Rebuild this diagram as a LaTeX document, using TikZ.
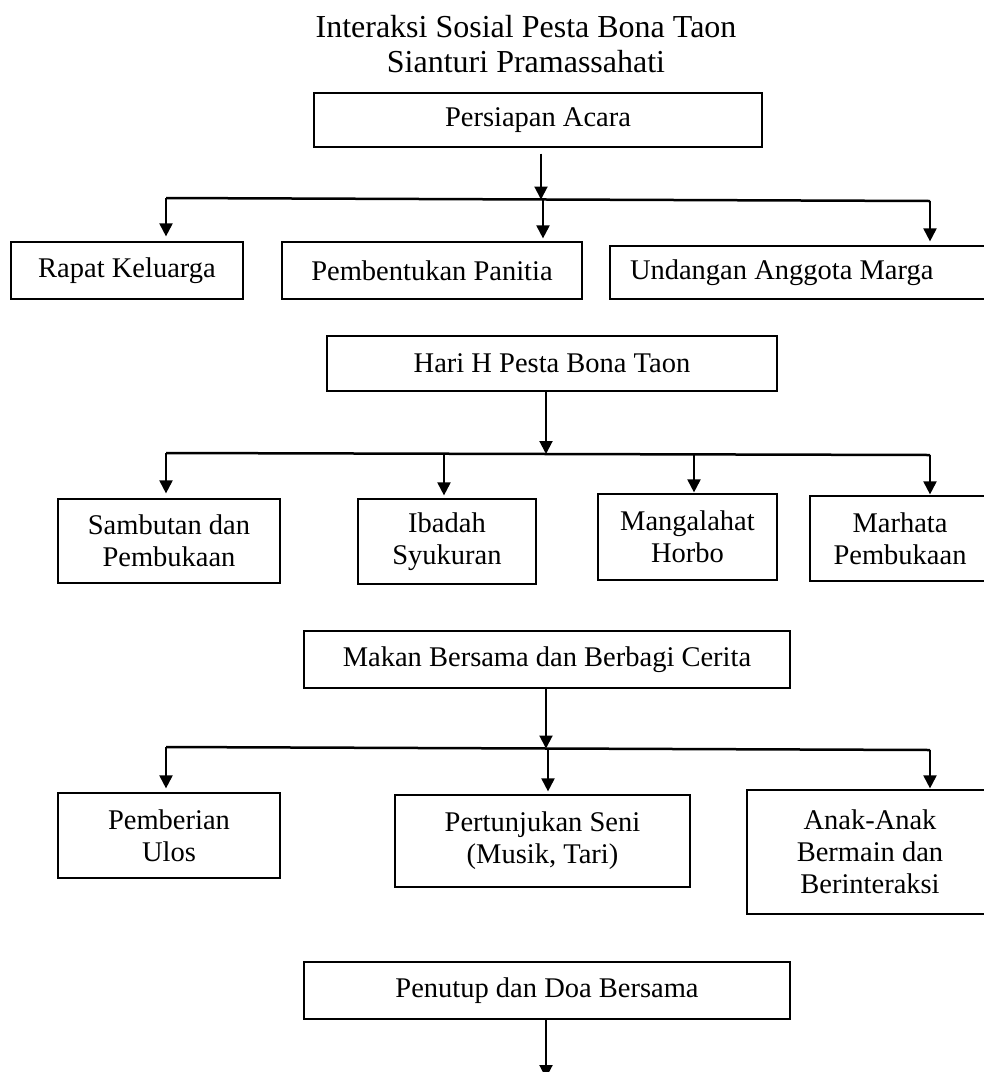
\documentclass[tikz,border=0pt]{standalone}
\usepackage{fontspec}
\setmainfont{Liberation Serif}
\usetikzlibrary{arrows.meta}

\begin{document}
\begin{tikzpicture}[x=1pt,y=-1pt,line width=2pt,>={Triangle[width=13pt,length=13pt]}]

	\useasboundingbox (0,0) rectangle (984,1072);
	\def \barA{198}
	\def \barB{453}
	\def \barC{747}
	\tikzstyle{p-node}=[draw,line width=1.2pt,align=center,inner sep=0pt,font=\fontsize{28.5}{32}\selectfont]
	\tikzstyle{title}=[anchor=base,font=\fontsize{32}{35}\selectfont]
	\tikzstyle{bar}=[line width=2.5pt]
	\tikzstyle{arr}=[->,shorten >=3pt]
	% title
	\node[title] (title1) at (526,37) {Interaksi Sosial Pesta Bona Taon};
	\node[title] (title2) at (526,72) {Sianturi Pramassahati};

	% persiapan
	\node[p-node,minimum width=448pt,minimum height=54pt] (persiapan) at (538,120) {Persiapan Acara};
	\node[p-node,minimum width=232pt,minimum height=57pt] (rapat) at (127,270.5) {Rapat Keluarga};
	\node[p-node,minimum width=300pt,minimum height=57pt] (panitia) at (432,270.5) {Pembentukan Panitia};
	\node[p-node,text width=350pt,inner xsep=20pt,align=flush left,minimum height=53pt] (undangan) at (805,272.5) {Undangan Anggota Marga};

	% hari H
	\node[p-node,minimum width=450pt,minimum height=55pt] (hari) at (552,363.5) {Hari H Pesta Bona Taon};
	\node[p-node,minimum width=222pt,minimum height=84pt] (sambutan) at (169,541) {Sambutan dan\\Pembukaan};
	\node[p-node,minimum width=178pt,minimum height=85pt] (ibadah) at (447,541.5) {Ibadah\\Syukuran};
	\node[p-node,minimum width=179pt,minimum height=86pt] (mangalahat) at (687.5,537) {Mangalahat\\Horbo};
	\node[p-node,minimum width=180pt,minimum height=85pt] (marhata) at (900,538.5) {Marhata\\Pembukaan};

	% makan bersama
	\node[p-node,minimum width=486pt,minimum height=57pt] (makan) at (547,659.5) {Makan Bersama dan Berbagi Cerita};
	\node[p-node,minimum width=222pt,minimum height=85pt] (pemberian) at (169,835.5) {Pemberian\\Ulos};
	\node[p-node,minimum width=295pt,minimum height=92pt] (pertunjukan) at (542.5,841) {Pertunjukan Seni\\(Musik, Tari)};
	\node[p-node,minimum width=246pt,minimum height=124pt] (anak) at (870,852) {Anak-Anak\\Bermain dan\\Berinteraksi};

	% penutup
	\node[p-node,minimum width=486pt,minimum height=57pt] (penutup) at (547,990.5) {Penutup dan Doa Bersama};
	\coordinate (akhir) at (546,1078);

	% bars
	\coordinate (a1) at (166,\barA);
	\coordinate (a2) at (541,199.5);
	\coordinate (a3) at (543,199.6);
	\coordinate (a4) at (930,201);
	\coordinate (b1) at (166,\barB);
	\coordinate (b2) at (444,453.7);
	\coordinate (b3) at (546,454);
	\coordinate (b4) at (694,454.4);
	\coordinate (b5) at (930,455);
	\coordinate (c1) at (166,\barC);
	\coordinate (c2) at (546,748.5);
	\coordinate (c3) at (548,748.6);
	\coordinate (c4) at (930,750);
	\draw[bar] (a1) -- (a4);
	\draw[bar] (b1) -- (b5);
	\draw[bar] (c1) -- (c4);

	% arrows
	\draw[->,shorten <=6pt] (persiapan.south -| a2) -- (a2);
	\draw[arr,shorten >=5pt] (a1) -- (a1 |- rapat.north);
	\draw[arr] (a3) -- (a3 |- panitia.north);
	\draw[arr,shorten >=4pt] (a4) -- (a4 |- undangan.north);
	\draw[->] (hari.south -| b3) -- (b3);
	\draw[arr,shorten >=5pt] (b1) -- (b1 |- sambutan.north);
	\draw[arr] (b2) -- (b2 |- ibadah.north);
	\draw[arr,shorten >=1pt] (b4) -- (b4 |- mangalahat.north);
	\draw[arr,shorten >=1pt] (b5) -- (b5 |- marhata.north);
	\draw[->] (makan.south -| c2) -- (c2);
	\draw[arr,shorten >=4pt] (c1) -- (c1 |- pemberian.north);
	\draw[arr] (c3) -- (c3 |- pertunjukan.north);
	\draw[arr,shorten >=1pt] (c4) -- (c4 |- anak.north);
	\draw[->] (penutup.south -| akhir) -- (akhir);
\end{tikzpicture}
\end{document}
